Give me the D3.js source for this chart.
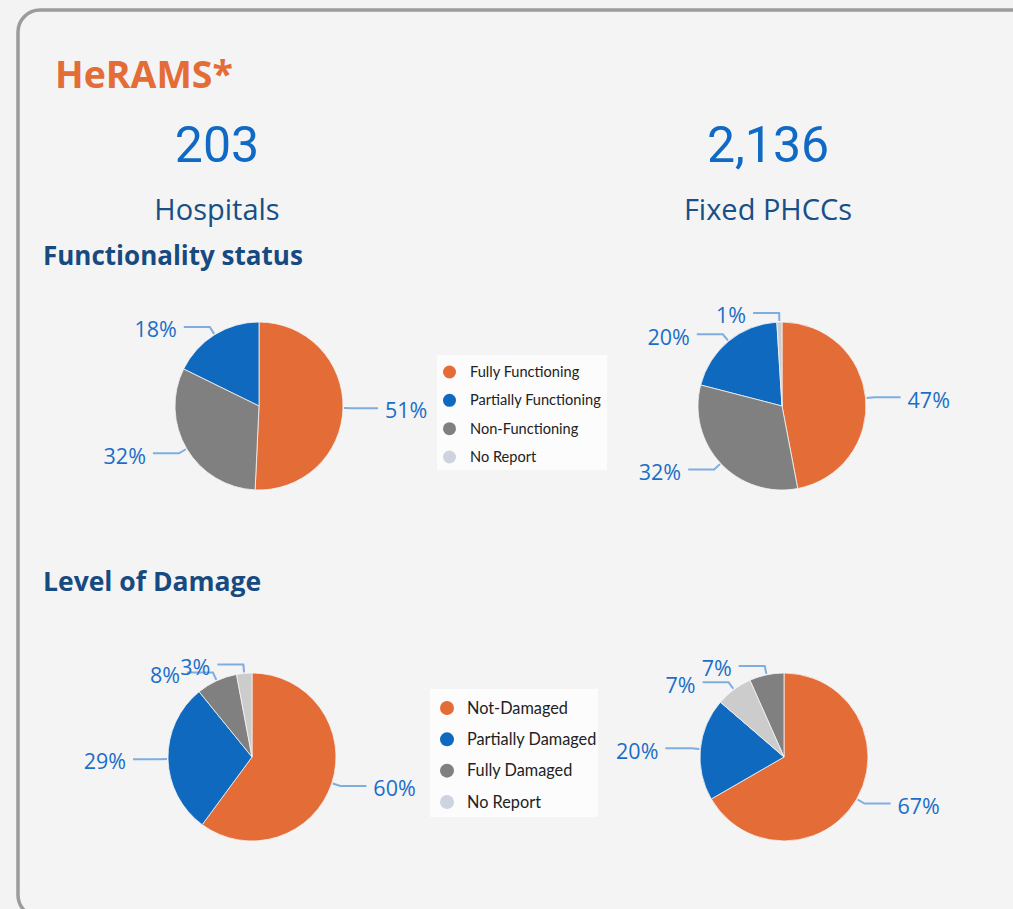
<!DOCTYPE html>
<html>
<head>
<meta charset="utf-8">
<script src="https://cdn.jsdelivr.net/npm/d3@7"></script>
<style>
  html, body { margin: 0; padding: 0; background: #f3f3f3; }
  svg { display: block; }
  text { font-family: "Open Sans", "Noto Sans", sans-serif; }
</style>
</head>
<body>
<div id="chart"></div>
<script>
// facility totals shown in the header
var facilityTypes = ["Hospitals", "Fixed PHCCs"];
var facilityTotals = [203, 2136];

// functionality status (counts of facilities)
var funcCategories = ["Fully Functioning", "Partially Functioning", "Non-Functioning", "No Report"];
var hospitalFunc = [103, 36, 64, 0];
var phccFunc = [1004, 427, 684, 21];

// level of damage (counts of facilities)
var damageCategories = ["Not-Damaged", "Partially Damaged", "Fully Damaged", "No Report"];
var hospitalDamage = [122, 59, 16, 6];
var phccDamage = [1424, 420, 142, 150];

var sliceColors = ["#e46c37", "#0f6abf", "#808080", "#cccccc"];
var legendColors = ["#e46c37", "#0f6abf", "#808080", "#cdd3df"];

var width = 1013, height = 909;

var svg = d3.select("#chart").append("svg")
  .attr("width", width)
  .attr("height", height);

// card with rounded border, running off the right and bottom edges
svg.append("rect")
  .attr("x", 18).attr("y", 10)
  .attr("width", 1100).attr("height", 907)
  .attr("rx", 22).attr("ry", 22)
  .attr("fill", "#f4f4f4")
  .attr("stroke", "#9b9b9b")
  .attr("stroke-width", 3.5);

svg.append("text")
  .attr("x", 55).attr("y", 88)
  .attr("fill", "#e46c37")
  .attr("font-size", 37.5)
  .attr("font-weight", 700)
  .text("HeRAMS*");

var headX = d3.scalePoint().domain(facilityTypes).range([217, 768]);

var heads = svg.selectAll(".head")
  .data(facilityTypes)
  .enter().append("g")
  .attr("class", "head")
  .attr("transform", function(d) { return "translate(" + headX(d) + ",0)"; });

heads.append("text")
  .attr("y", 162)
  .attr("text-anchor", "middle")
  .attr("fill", "#1069c4")
  .attr("font-size", 50)
  .style("font-family", "Roboto, sans-serif")
  .text(function(d, i) { return d3.format(",")(facilityTotals[i]); });

heads.append("text")
  .attr("y", 220)
  .attr("text-anchor", "middle")
  .attr("fill", "#174f86")
  .attr("font-size", 29)
  .text(function(d) { return d; });

svg.append("text")
  .attr("x", 43).attr("y", 265)
  .attr("fill", "#174a80")
  .attr("font-size", 26)
  .attr("font-weight", 700)
  .text("Functionality status");

svg.append("text")
  .attr("x", 43).attr("y", 591)
  .attr("fill", "#174a80")
  .attr("font-size", 26.5)
  .attr("font-weight", 700)
  .text("Level of Damage");

var radius = 84;
var pie = d3.pie()
  .value(function(d) { return d.value; })
  .sort(function(a, b) { return b.value - a.value; });
var arc = d3.arc().innerRadius(0).outerRadius(radius);

function drawPie(cx, cy, cats, values) {
  var total = d3.sum(values);
  var data = cats.map(function(c, i) { return { cat: c, value: values[i], color: sliceColors[i] }; })
    .filter(function(d) { return d.value > 0; });
  var g = svg.append("g").attr("transform", "translate(" + cx + "," + cy + ")");
  var arcs = pie(data);

  g.selectAll("path")
    .data(arcs)
    .enter().append("path")
    .attr("d", arc)
    .attr("fill", function(d) { return d.data.color; })
    .attr("stroke", "#f4f4f4")
    .attr("stroke-width", 0.8);

  var lab = g.selectAll(".lab")
    .data(arcs)
    .enter().append("g")
    .attr("class", "lab");

  function pt(a, r) { return [r * Math.sin(a), -r * Math.cos(a)]; }

  lab.append("polyline")
    .attr("fill", "none")
    .attr("stroke", "#7eaee0")
    .attr("stroke-width", 2)
    .attr("points", function(d) {
      var a = (d.startAngle + d.endAngle) / 2;
      var p1 = pt(a, radius + 1), p2 = pt(a, radius + 9);
      var side = Math.sin(a) >= 0 ? 1 : -1;
      var p3 = [p2[0] + side * 26, p2[1]];
      return [p1, p2, p3].map(function(p) { return p.join(","); }).join(" ");
    });

  lab.append("text")
    .attr("x", function(d) {
      var a = (d.startAngle + d.endAngle) / 2;
      var side = Math.sin(a) >= 0 ? 1 : -1;
      return pt(a, radius + 9)[0] + side * 33;
    })
    .attr("y", function(d) { return pt((d.startAngle + d.endAngle) / 2, radius + 9)[1]; })
    .attr("dy", "0.48em")
    .attr("text-anchor", function(d) {
      return Math.sin((d.startAngle + d.endAngle) / 2) >= 0 ? "start" : "end";
    })
    .attr("fill", "#1a6ec8")
    .attr("font-size", 21.5)
    .text(function(d) { return Math.round(d.data.value / total * 100) + "%"; });
}

drawPie(259, 406, funcCategories, hospitalFunc);
drawPie(782, 406, funcCategories, phccFunc);
drawPie(252, 757, damageCategories, hospitalDamage);
drawPie(784, 757, damageCategories, phccDamage);

function drawLegend(x, y, w, h, cats, y0, y1, cr, fs, tx) {
  var lg = svg.append("g");
  lg.append("rect")
    .attr("x", x).attr("y", y)
    .attr("width", w).attr("height", h)
    .attr("fill", "#fcfcfc");
  var ly = d3.scalePoint().domain(cats).range([y0, y1]);
  var item = lg.selectAll(".item")
    .data(cats)
    .enter().append("g")
    .attr("class", "item")
    .attr("transform", function(d) { return "translate(0," + ly(d) + ")"; });
  item.append("circle")
    .attr("cx", x + tx - 20 + cr - 7)
    .attr("r", cr)
    .attr("fill", function(d, i) { return legendColors[i]; });
  item.append("text")
    .attr("x", x + tx)
    .attr("dy", "0.35em")
    .attr("fill", "#222")
    .attr("font-size", fs)
    .style("font-family", "Lato, 'Open Sans', sans-serif")
    .text(function(d) { return d; });
}

drawLegend(437, 355, 170, 115, funcCategories, 372, 457, 6.5, 14.6, 33);
drawLegend(430, 689, 168, 128, damageCategories, 708, 802, 7, 16.3, 37);
</script>
</body>
</html>
